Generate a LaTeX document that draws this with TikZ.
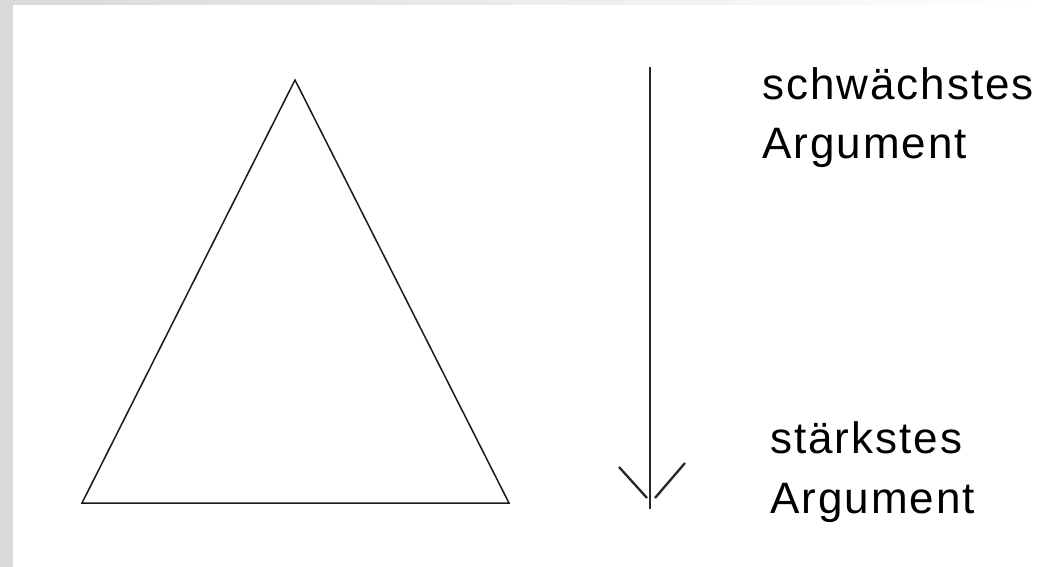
\documentclass[tikz,border=0pt]{standalone}
\usepackage{fontspec}
\setmainfont{Liberation Sans}
\newfontfamily\lblfont[LetterSpace=4.5]{Liberation Sans}
\begin{document}
\begin{tikzpicture}[x=1pt,y=-1pt,
  edge/.style={draw=black!90, line width=1.5pt},
  arr/.style={draw=black!85, line width=2.3pt},
  lbl/.style={anchor=base west, inner sep=0pt, font=\lblfont\fontsize{44}{58}\selectfont, text=black}]
\useasboundingbox (0,0) rectangle (1046,567);
% background frame
\fill[black!15] (0,0) rectangle (1046,567);
\shade[left color=black!15, right color=white] (0,0) rectangle (1046,6);
\fill[white] (13,5) rectangle (1046,567);
% triangle
\coordinate (apex) at (295,80);
\coordinate (bl) at (82,503);
\coordinate (br) at (509,503);
\draw[edge, line join=miter] (apex) -- (bl) -- (br) -- cycle;
% arrow
\coordinate (atop) at (650,67);
\coordinate (abot) at (650,509);
\coordinate (la) at (619,467);
\coordinate (lb) at (647,498);
\coordinate (ra) at (685,463);
\coordinate (rb) at (655,498);
\draw[arr] (atop) -- (abot);
\draw[arr] (la) -- (lb);
\draw[arr] (ra) -- (rb);
% labels
\node[lbl] (w1) at (762,100) {schwächstes};
\node[lbl] (w2) at (762,158) {Argument};
\node[lbl] (s1) at (770,453) {stärkstes};
\node[lbl] (s2) at (770,513) {Argument};
\end{tikzpicture}
\end{document}
